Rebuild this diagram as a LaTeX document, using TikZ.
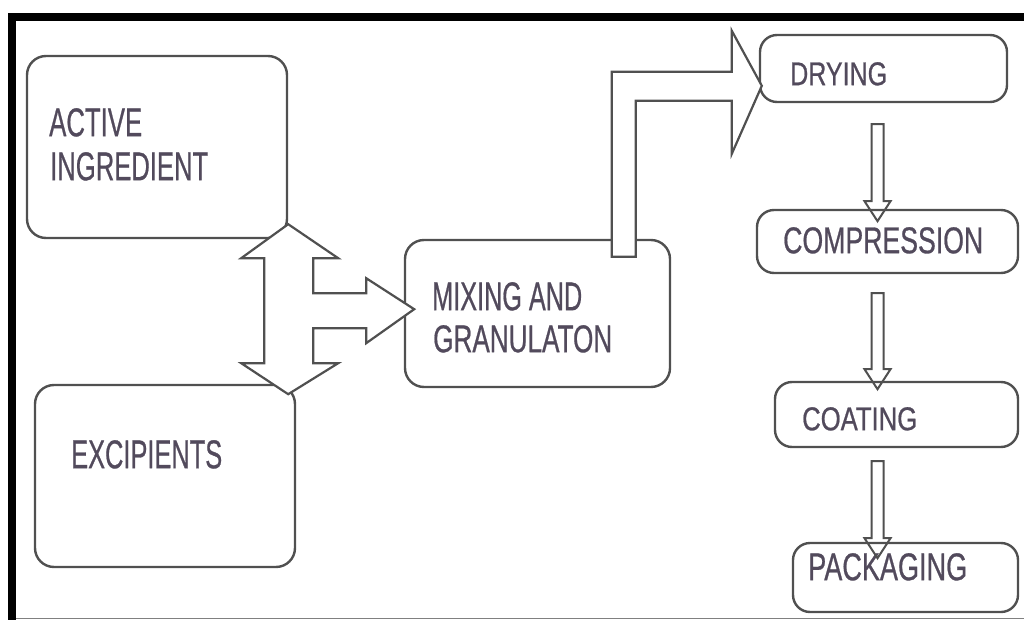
\documentclass[tikz,border=0pt]{standalone}
\usepackage{fontspec}
\setmainfont[FakeBold=0.8]{Liberation Sans}
\usetikzlibrary{calc}
\definecolor{edge}{RGB}{80,80,80}
\definecolor{ink}{RGB}{82,74,92}
\newcommand{\sizedtext}[3]{\resizebox{#1pt}{#2pt}{#3}}
\tikzset{
  box/.style={draw=edge, line width=2.4pt, rounded corners=19pt, inner sep=0pt},
  smallbox/.style={box, rounded corners=17pt},
  blockarrow/.style={draw=edge, line width=2.2pt, line join=miter, fill=white},
  thinarrow/.style={draw=edge, line width=2pt, line join=miter},
  lbl/.style={anchor=north west, inner sep=0pt, text=ink},
  pics/downarrow/.style={code={
    \draw[thinarrow] (-6,0) -- (6,0) -- (6,#1) -- (13,#1) -- (0,#1+20)
      -- (-13,#1) -- (-6,#1) -- cycle;}}
}
\begin{document}
\begin{tikzpicture}[x=1pt, y=-1pt]
\useasboundingbox (0,0) rectangle (1024,620);
\fill[white] (0,0) rectangle (1024,620);

% frame
\fill[black] (8,13) rectangle (1024,21);
\fill[black] (8,13) rectangle (16,620);
\draw[gray, line width=1.5pt] (16,618.5) -- (1024,618.5);

% process boxes
\node[box, minimum width=260pt, minimum height=182pt] (active) at (157,147) {};
\node[box, minimum width=260pt, minimum height=182pt] (excip) at (165,476) {};
\node[box, minimum width=265pt, minimum height=147pt] (mix) at (537.5,313.5) {};
\node[smallbox, minimum width=247pt, minimum height=67pt] (dry) at (883.5,68.5) {};
\node[smallbox, minimum width=261pt, minimum height=63pt] (comp) at (887.5,241.5) {};
\node[smallbox, minimum width=243pt, minimum height=65pt] (coat) at (896.5,414.5) {};
\node[smallbox, minimum width=225pt, minimum height=69pt] (pack) at (905.5,577.5) {};

% labels
\node[lbl] (activeA) at (49,108) {\sizedtext{93}{28}{ACTIVE}};
\node[lbl] (activeB) at (50,152) {\sizedtext{158}{28}{INGREDIENT}};
\node[lbl] (excipA) at (71,440) {\sizedtext{151}{28}{EXCIPIENTS}};
\node[lbl] (mixA) at (432,282) {\sizedtext{150}{28}{MIXING AND}};
\node[lbl] (mixB) at (433,325) {\sizedtext{179}{27}{GRANULATON}};
\node[lbl] (dryA) at (790,62) {\sizedtext{97}{23}{DRYING}};
\node[lbl] (compA) at (783,227) {\sizedtext{200}{26}{COMPRESSION}};
\node[lbl] (coatA) at (802,407) {\sizedtext{115}{23}{COATING}};
\node[lbl] (packA) at (808,553) {\sizedtext{159}{27}{PACKAGING}};

% double arrow between the ingredients, branching into mixing
\draw[blockarrow] ($(active.south east)+(0,-15)$)
  -- ++(50,34) -- ++(-25,0) -- ++(0,35) -- ++(53,0) -- ++(0,-15)
  -- ++(48,31) -- ++(-48,34) -- ++(0,-15) -- ++(-53,0) -- ++(0,35)
  -- ++(25,0) -- ++(-50,31) -- ++(-47,-31) -- ++(23,0) -- ++(0,-105)
  -- ++(-23,0) -- cycle;

% elbow arrow from mixing up to drying
\draw[blockarrow] ($(mix.north west)+(208,18)$)
  -- ++(24,0) -- ++(0,-156) -- ++(96,0) -- ++(0,53) -- ++(30,-68)
  -- ++(-30,-55) -- ++(0,41) -- ++(-120,0) -- cycle;

% downward arrows along the process line
\pic at ($(dry.south)+(-6,21)$) {downarrow=77};
\pic at ($(comp.south)+(-10,19)$) {downarrow=76};
\pic at ($(coat.south)+(-19,13)$) {downarrow=77};
\end{tikzpicture}
\end{document}
